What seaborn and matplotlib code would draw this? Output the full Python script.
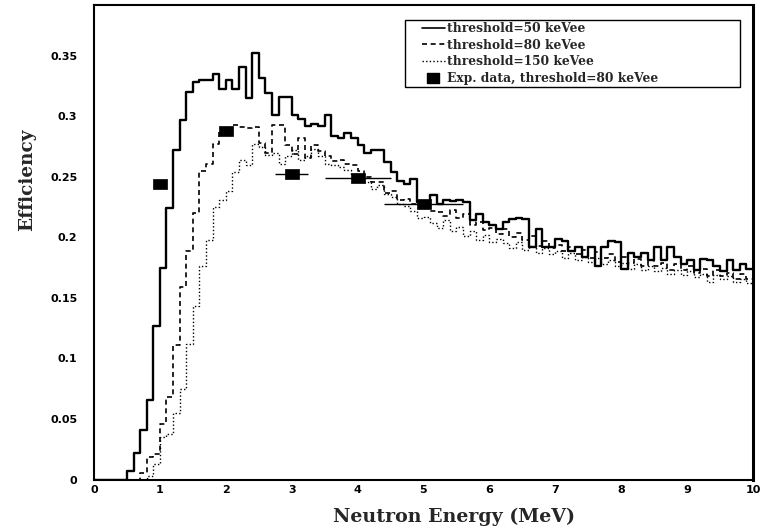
import numpy as np
import pandas as pd
import matplotlib
matplotlib.use("Agg")
import matplotlib.pyplot as plt
import seaborn as sns
from matplotlib.lines import Line2D
from matplotlib.patches import Rectangle
from matplotlib.ticker import MultipleLocator

# ---------------- data ----------------
bin_edges = [round(0.1 * i, 1) for i in range(101)]   # 0.1 MeV bins, 0-10 MeV

eff_50 = [
    0.0, 0.0, 0.0, 0.0, 0.0, 0.007, 0.022, 0.041, 0.066, 0.127,          # 0.0-1.0
    0.175, 0.224, 0.272, 0.297, 0.320, 0.328, 0.330, 0.330, 0.335, 0.323,  # 1.0-2.0
    0.330, 0.323, 0.341, 0.315, 0.352, 0.332, 0.319, 0.301, 0.316, 0.316,  # 2.0-3.0
    0.301, 0.298, 0.292, 0.294, 0.292, 0.301, 0.284, 0.282, 0.286, 0.282,  # 3.0-4.0
    0.276, 0.270, 0.272, 0.272, 0.262, 0.254, 0.247, 0.244, 0.248, 0.229,  # 4.0-5.0
    0.229, 0.235, 0.228, 0.231, 0.230, 0.231, 0.229, 0.214, 0.219, 0.213,  # 5.0-6.0
    0.210, 0.207, 0.213, 0.215, 0.216, 0.215, 0.192, 0.207, 0.192, 0.192,  # 6.0-7.0
    0.199, 0.197, 0.189, 0.192, 0.184, 0.192, 0.176, 0.192, 0.197, 0.196,  # 7.0-8.0
    0.174, 0.187, 0.184, 0.187, 0.181, 0.192, 0.181, 0.192, 0.184, 0.178,  # 8.0-9.0
    0.181, 0.173, 0.182, 0.181, 0.176, 0.172, 0.181, 0.173, 0.178, 0.174,  # 9.0-10.0
]

eff_80 = [
    0.0, 0.0, 0.0, 0.0, 0.0, 0.0, 0.0, 0.005, 0.019, 0.021,
    0.046, 0.068, 0.111, 0.159, 0.189, 0.220, 0.255, 0.261, 0.277, 0.287,
    0.290, 0.293, 0.291, 0.290, 0.291, 0.278, 0.270, 0.293, 0.293, 0.276,
    0.269, 0.282, 0.266, 0.276, 0.271, 0.267, 0.263, 0.264, 0.261, 0.260,
    0.255, 0.250, 0.246, 0.246, 0.237, 0.238, 0.231, 0.232, 0.228, 0.226,
    0.224, 0.222, 0.221, 0.218, 0.223, 0.216, 0.219, 0.210, 0.213, 0.206,
    0.208, 0.203, 0.207, 0.200, 0.204, 0.198, 0.201, 0.193, 0.197, 0.191,
    0.194, 0.189, 0.192, 0.186, 0.190, 0.183, 0.188, 0.183, 0.186, 0.180,
    0.184, 0.179, 0.182, 0.176, 0.181, 0.176, 0.179, 0.173, 0.178, 0.173,
    0.176, 0.171, 0.174, 0.168, 0.173, 0.168, 0.171, 0.166, 0.170, 0.166,
]

eff_150 = [
    0.0, 0.0, 0.0, 0.0, 0.0, 0.0, 0.0, 0.0, 0.003, 0.013,
    0.035, 0.038, 0.055, 0.075, 0.112, 0.143, 0.176, 0.198, 0.225, 0.231,
    0.238, 0.254, 0.264, 0.260, 0.277, 0.275, 0.268, 0.270, 0.261, 0.267,
    0.272, 0.264, 0.267, 0.273, 0.267, 0.261, 0.260, 0.258, 0.256, 0.252,
    0.250, 0.246, 0.240, 0.243, 0.236, 0.233, 0.228, 0.226, 0.222, 0.216,
    0.217, 0.212, 0.208, 0.214, 0.205, 0.209, 0.201, 0.205, 0.198, 0.202,
    0.196, 0.199, 0.195, 0.191, 0.196, 0.190, 0.193, 0.187, 0.191, 0.186,
    0.189, 0.183, 0.187, 0.181, 0.184, 0.180, 0.183, 0.178, 0.181, 0.176,
    0.179, 0.174, 0.178, 0.173, 0.176, 0.172, 0.175, 0.170, 0.173, 0.169,
    0.172, 0.167, 0.170, 0.163, 0.169, 0.166, 0.168, 0.163, 0.166, 0.162,
]

exp_energy = [1.0, 2.0, 3.0, 4.0, 5.0]
exp_eff = [0.244, 0.288, 0.252, 0.249, 0.228]
exp_xerr = [0.0, 0.0, 0.25, 0.5, 0.6]

series_labels = ["threshold=50 keVee", "threshold=80 keVee",
                 "threshold=150 keVee", "Exp. data, threshold=80 keVee"]

x_ticks = [0, 1, 2, 3, 4, 5, 6, 7, 8, 9, 10]
x_tick_labels = ["0", "1", "2", "3", "4", "5", "6", "7", "8", "9", "10"]
y_ticks = [0, 0.05, 0.1, 0.15, 0.2, 0.25, 0.3, 0.35]
y_tick_labels = ["0", "0.05", "0.1", "0.15", "0.2", "0.25", "0.3", "0.35"]

x_label = "Neutron Energy (MeV)"
y_label = "Efficiency"

# ---------------- styling ----------------
sns.set_theme(style="white")
plt.rcParams["font.family"] = ["DejaVu Sans"]

SERIF = ["DejaVu Serif"]

fig = plt.figure(figsize=(7.63, 5.32), dpi=100)
ax = fig.add_axes([94 / 763, (532 - 479.5) / 532, 659 / 763, 474.5 / 532])

centers = [e + 0.05 for e in bin_edges[:-1]]
styles = [
    dict(linestyle="-", linewidth=1.7),
    dict(linestyle=(0, (3.0, 2.2)), linewidth=1.2),
    dict(linestyle=(0, (1.0, 1.6)), linewidth=1.0),
]
for vals, st in zip([eff_50, eff_80, eff_150], styles):
    df = pd.DataFrame({"energy": centers, "eff": vals})
    sns.histplot(data=df, x="energy", weights="eff", bins=bin_edges,
                 element="step", fill=False, color="black", ax=ax, **st)

# experimental points
rect_marker = [(-1.3, -1.0), (1.3, -1.0), (1.3, 1.0), (-1.3, 1.0), (-1.3, -1.0)]
ax.errorbar(exp_energy, exp_eff, xerr=exp_xerr, fmt="none",
            ecolor="black", elinewidth=1.0, capsize=0, zorder=4)
sns.scatterplot(x=exp_energy, y=exp_eff, marker=rect_marker, s=90,
                color="black", edgecolor="black", linewidth=0.5, ax=ax, zorder=5)

# axes
ax.set_xlim(0, 10)
ax.set_ylim(0, 0.392)
ax.set_xticks(x_ticks)
ax.set_xticklabels(x_tick_labels)
ax.set_yticks(y_ticks)
ax.set_yticklabels(y_tick_labels)
ax.xaxis.set_minor_locator(MultipleLocator(0.2))
ax.yaxis.set_minor_locator(MultipleLocator(0.01))
ax.tick_params(axis="both", which="both", direction="in", colors="black",
               top=False, right=False)
ax.tick_params(axis="x", which="major", length=6.5, width=1.2, pad=4)
ax.tick_params(axis="x", which="minor", length=3, width=1.0)
ax.tick_params(axis="y", which="major", length=8.5, width=1.2, pad=12)
ax.tick_params(axis="y", which="minor", length=4.5, width=1.0)
for lab in ax.get_xticklabels() + ax.get_yticklabels():
    lab.set_fontsize(8)
    lab.set_fontweight("bold")
    lab.set_family(["DejaVu Sans"])

for side, sp in ax.spines.items():
    sp.set_visible(True)
    sp.set_color("black")
    sp.set_linewidth(1.5)
ax.spines["right"].set_linewidth(2.2)

ax.set_xlabel(x_label, family=SERIF, fontsize=13.7, fontweight="bold")
ax.set_ylabel(y_label, family=SERIF, fontsize=13.2, fontweight="bold")
ax.xaxis.set_label_coords(0.546, -0.060)
ax.yaxis.set_label_coords(-0.088, 0.632)

# legend
handles = [
    Line2D([], [], color="black", linestyle="-", linewidth=1.2),
    Line2D([], [], color="black", linestyle=(0, (3.0, 2.2)), linewidth=1.2),
    Line2D([], [], color="black", linestyle=(0, (1.0, 1.6)), linewidth=1.0),
    Line2D([], [], color="black", linestyle="none", marker=rect_marker,
           markersize=9),
]
ax.add_patch(Rectangle((0.472, 0.827), 0.508, 0.141, transform=ax.transAxes,
                       fill=True, facecolor="white", edgecolor="black",
                       linewidth=1.0, zorder=6))
leg = ax.legend(handles, series_labels, loc="upper left",
                bbox_to_anchor=(0.497, 0.964), frameon=False,
                prop=dict(family=SERIF, weight="bold", size=8.8),
                handlelength=1.9, handletextpad=0.2, labelspacing=0.3,
                borderpad=0.0, borderaxespad=0.0)
leg.set_zorder(7)

fig.savefig("out.png", dpi=100)
